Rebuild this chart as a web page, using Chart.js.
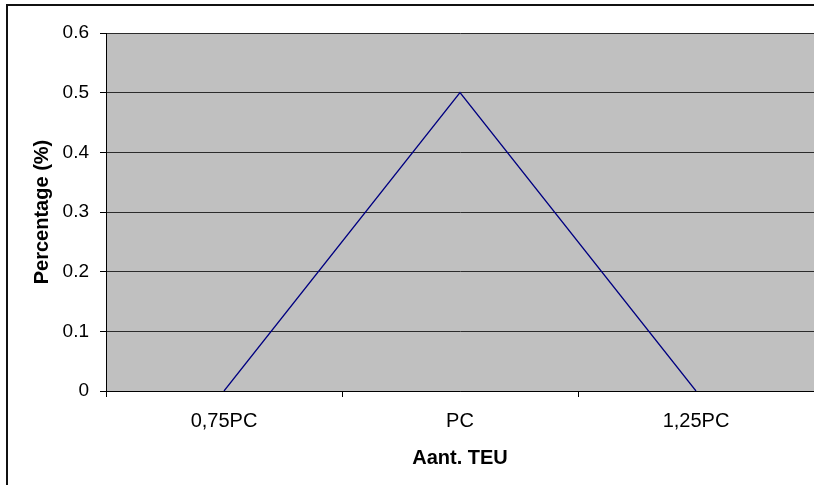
<!DOCTYPE html>
<html>
<head>
<meta charset="utf-8">
<title>Percentage per Aant. TEU</title>
<script src="https://cdn.jsdelivr.net/npm/chart.js@4/dist/chart.umd.min.js"></script>
<style>
    body { margin: 0; background: #ffffff; }
    canvas { display: block; }
</style>
</head>
<body>
<canvas id="teuChart" width="814" height="485"></canvas>
<script>
// Chart data
const categories = ['0,75PC', 'PC', '1,25PC'];
const percentages = [0, 0.5, 0];
const yMin = 0;
const yMax = 0.6;
const yStep = 0.1;

// Grey plot area and the outer frame, like the original Excel chart
const backgroundPlugin = {
    id: 'plotBackground',
    beforeDraw(chart) {
        const { ctx, chartArea } = chart;
        ctx.save();
        ctx.fillStyle = '#c0c0c0';
        ctx.fillRect(chartArea.left, chartArea.top, chartArea.right - chartArea.left, chartArea.bottom - chartArea.top);
        ctx.fillStyle = '#111111';
        ctx.fillRect(6, 4, chart.width, 2);
        ctx.fillRect(6, 4, 2, chart.height);
        ctx.restore();
    }
};

const ctx = document.getElementById('teuChart').getContext('2d');

const config = {
    type: 'line',
    data: {
        labels: categories,
        datasets: [{
            label: 'Percentage',
            data: percentages,
            borderColor: '#000080',
            borderWidth: 1.3,
            pointRadius: 0,
            tension: 0,
            fill: false
        }]
    },
    options: {
        responsive: false,
        animation: false,
        layout: {
            padding: { left: 0, top: 33, right: 0, bottom: 0 }
        },
        plugins: {
            legend: { display: false },
            tooltip: { enabled: false }
        },
        scales: {
            x: {
                offset: true,
                afterFit(scale) { scale.height = 94; },
                grid: {
                    offset: true,
                    drawOnChartArea: false,
                    drawTicks: true,
                    tickLength: 6,
                    color: '#000000'
                },
                border: { display: true, color: '#000000', width: 1 },
                ticks: {
                    color: '#000000',
                    padding: 12,
                    maxRotation: 0,
                    font: { family: 'Liberation Sans, Arial, sans-serif', size: 20 }
                },
                title: {
                    display: true,
                    text: 'Aant. TEU',
                    color: '#000000',
                    padding: { top: 0, bottom: 15 },
                    font: { family: 'Liberation Sans, Arial, sans-serif', size: 20, weight: 'bold' }
                }
            },
            y: {
                min: yMin,
                max: yMax,
                afterFit(scale) { scale.width = 106; },
                grid: {
                    color: '#2b2b2b',
                    drawTicks: true,
                    tickLength: 6,
                    tickColor: '#000000'
                },
                border: { display: true, color: '#000000', width: 1 },
                ticks: {
                    stepSize: yStep,
                    color: '#000000',
                    padding: 11,
                    font: { family: 'Liberation Sans, Arial, sans-serif', size: 19 },
                    callback: value => String(+value.toFixed(1))
                },
                title: {
                    display: true,
                    text: 'Percentage (%)',
                    color: '#000000',
                    padding: { top: 30, bottom: 0 },
                    font: { family: 'Liberation Sans, Arial, sans-serif', size: 20, weight: 'bold' }
                }
            }
        }
    },
    plugins: [backgroundPlugin]
};

// Create the chart
new Chart(ctx, config);
</script>
</body>
</html>
